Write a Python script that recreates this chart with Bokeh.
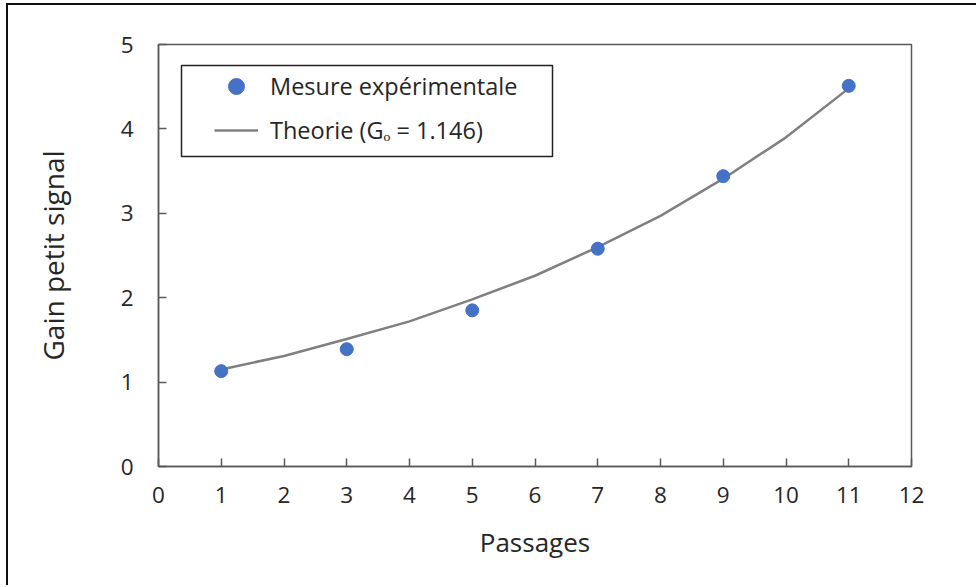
from bokeh.plotting import figure
from bokeh.models import Range1d, FixedTicker, Legend, LegendItem, BoxAnnotation
from bokeh.embed import file_html
from bokeh.resources import INLINE

# ---- data ----
passages = [1, 3, 5, 7, 9, 11]
gain_mesure = [1.13, 1.39, 1.85, 2.58, 3.44, 4.51]
passages_theorie = [1, 2, 3, 4, 5, 6, 7, 8, 9, 10, 11]
gain_theorie = [1.15, 1.31, 1.51, 1.72, 1.98, 2.26, 2.60, 2.97, 3.41, 3.90, 4.48]
x_ticks = [0, 1, 2, 3, 4, 5, 6, 7, 8, 9, 10, 11, 12]
y_ticks = [0, 1, 2, 3, 4, 5]
label_mesure = "Mesure expérimentale"
label_theorie = "Theorie (G\u2092 = 1.146)"

FONT = "Open Sans"
TXT = "#262626"
AX = "#595959"

p = figure(
    output_backend="svg", toolbar_location=None,
    frame_width=753, frame_height=422,
    min_border_left=150, min_border_top=39, min_border_right=65, min_border_bottom=119,
    x_range=Range1d(0, 12), y_range=Range1d(0, 5),
    background_fill_color="white", border_fill_color="white",
)
# outer frame of the picture (left and top edges are visible in the reference)
p.styles = {"margin-left": "6px", "margin-top": "3px",
            "border-left": "2px solid #111111", "border-top": "2px solid #111111"}

p.xgrid.visible = False
p.ygrid.visible = False
p.outline_line_color = AX
p.outline_line_width = 1.5

for ax, ticks in ((p.xaxis[0], x_ticks), (p.yaxis[0], y_ticks)):
    ax.ticker = FixedTicker(ticks=ticks)
    ax.axis_line_color = AX
    ax.axis_line_width = 1.5
    ax.major_tick_line_color = AX
    ax.major_tick_line_width = 1.5
    ax.major_tick_in = 8
    ax.major_tick_out = 0
    ax.minor_tick_line_color = None
    ax.major_label_text_font = FONT
    ax.major_label_text_font_size = "22.5px"
    ax.major_label_text_color = TXT
    ax.axis_label_text_font = FONT
    ax.axis_label_text_font_style = "normal"
    ax.axis_label_text_color = TXT

p.xaxis.axis_label = "Passages"
p.yaxis.axis_label = "Gain petit signal"
p.xaxis.axis_label_text_font_size = "26px"
p.yaxis.axis_label_text_font_size = "28px"
p.xaxis.major_label_standoff = 20
p.yaxis.major_label_standoff = 25
p.xaxis.axis_label_standoff = 18
p.yaxis.axis_label_standoff = 46

line_r = p.line(passages_theorie, gain_theorie, line_color="#808080", line_width=2.5)
pts_r = p.scatter(passages, gain_mesure, size=13, fill_color="#4472C4", line_color="#4472C4")

# legend frame
p.add_layout(BoxAnnotation(left=171, right=542, top=58, bottom=149,
                           left_units="canvas", right_units="canvas",
                           top_units="canvas", bottom_units="canvas",
                           fill_alpha=0, line_color="#222222", line_alpha=1.0,
                           line_width=1.5))

legend = Legend(items=[LegendItem(label=label_mesure, renderers=[pts_r]),
                       LegendItem(label=label_theorie, renderers=[line_r])],
                location=(53, 313), padding=3, spacing=4,
                glyph_width=44, glyph_height=40, label_height=40,
                label_standoff=12, label_text_font=FONT,
                label_text_font_size="23.5px", label_text_color=TXT,
                border_line_alpha=0, background_fill_alpha=0)
p.add_layout(legend)

open("out.html", "w").write(file_html(p, INLINE))
